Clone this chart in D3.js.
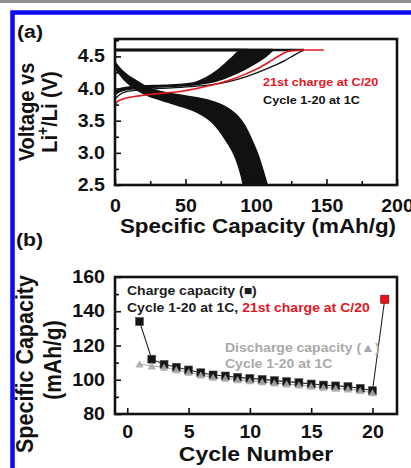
<!DOCTYPE html>
<html>
<head>
<meta charset="utf-8">
<script src="https://cdn.jsdelivr.net/npm/d3@7/dist/d3.min.js"></script>
<style>
  body { margin: 0; background: #fff; }
  svg { display: block; font-family: "Liberation Sans", Arial, sans-serif; font-weight: bold; }
</style>
</head>
<body>
<div id="chart"></div>
<script>
// ---- panel (a): voltage profiles as [capacity mAh/g, voltage V] ----
const discharge1 = [[0,4.41],[4,4.3],[8,4.22],[13,4.15],[20,4.05],[28,3.97],[37,3.93],[48,3.89],[60,3.85],[70,3.8],[78,3.73],[85,3.62],[90,3.5],[94,3.35],[98,3.15],[101,3.0],[104,2.8],[108,2.5]];
const discharge20 = [[0,4.32],[4,4.2],[8,4.1],[13,4.01],[20,3.92],[28,3.85],[37,3.79],[48,3.72],[56,3.66],[62,3.59],[68,3.5],[73,3.38],[78,3.22],[83,3.05],[86,2.9],[89,2.7],[91,2.5]];
const charge1 = [[0,3.84],[3,3.9],[8,3.95],[20,3.98],[40,4.01],[60,4.04],[75,4.08],[88,4.15],[100,4.24],[110,4.33],[120,4.43],[128,4.53],[134,4.6]];
const charge2 = [[0,3.9],[3,3.95],[10,3.99],[25,4.02],[45,4.04],[60,4.07],[72,4.12],[82,4.2],[92,4.3],[100,4.4],[107,4.5],[112,4.6]];
const charge20 = [[0,3.96],[4,4.0],[15,4.03],[35,4.05],[50,4.07],[58,4.1],[65,4.17],[72,4.27],[78,4.38],[84,4.5],[89,4.59],[94,4.6]];
const charge21 = [[0,3.76],[2,3.8],[6,3.84],[15,3.88],[30,3.92],[45,3.95],[58,4.0],[68,4.05],[80,4.12],[92,4.22],[102,4.32],[112,4.45],[118,4.53],[123,4.58],[135,4.6],[148,4.6]];
const cutoffV = 4.6;

// ---- panel (b): capacity vs cycle ----
const cycleNo = [1,2,3,4,5,6,7,8,9,10,11,12,13,14,15,16,17,18,19,20];
const chargeCap = [134,112,109,107.3,105.7,104.1,102.8,102.2,101.4,100.8,100.2,99.5,98.9,98.3,97.5,96.9,96.4,96,95,93.6];
const dischargeCap = [109.2,108,107.3,105.8,104.3,102.7,101.4,100.8,100,99.4,98.8,98.1,97.5,96.9,96.1,95.5,95,94.6,93.6,92.4];
const lastCycle = [21, 147];

const xTicksA = [0,50,100,150,200], xMinorA = [25,75,125,175];
const yTicksA = [2.5,3.0,3.5,4.0,4.5], yMinorA = [2.75,3.25,3.75,4.25,4.75];
const xTicksB = [0,5,10,15,20];
const yTicksB = [80,100,120,140,160], yMinorB = [90,110,130,150];

const W = 411, H = 468, SX = 1.12;
const red = "#e3161f", grey = "#a9a9a9", ink = "#111";

let svg = d3.select("#chart").append("svg")
  .attr("width", W).attr("height", H);

// frame of the figure
svg.append("rect").attr("x", 0).attr("y", 0).attr("width", W).attr("height", 3).attr("fill", "#8e8e8e");
svg.append("path")
  .attr("d", "M12.5," + H + "V12.5H" + W)
  .attr("fill", "none").attr("stroke", "#0b0bf2").attr("stroke-width", 4.5);

// text helpers (the figure is a bit stretched horizontally)
function txt(g, x, y, s, size, color, anchor) {
  return g.append("text")
    .attr("transform", "translate(" + x + "," + y + ") scale(" + SX + ",1)")
    .attr("text-anchor", anchor || "start")
    .style("font-size", size + "px")
    .attr("fill", color || ink)
    .text(s);
}
function vtxt(g, x, y, s, size) {
  return g.append("text")
    .attr("transform", "translate(" + x + "," + y + ") rotate(-90) scale(1," + SX + ")")
    .attr("text-anchor", "middle")
    .style("font-size", size + "px")
    .attr("fill", ink)
    .text(s);
}

function axes(x, y, xt, xm, yt, ym, xfmt, yfmt, xpad) {
  let bottom = y.range()[0], left = x.range()[0];
  let gx = svg.append("g").attr("transform", "translate(0," + bottom + ")")
    .call(d3.axisBottom(x).tickValues(xt).tickSize(-6).tickPadding(xpad).tickFormat(xfmt));
  if (xm) svg.append("g").attr("transform", "translate(0," + bottom + ")")
    .call(d3.axisBottom(x).tickValues(xm).tickSize(-4).tickFormat(""));
  let gy = svg.append("g").attr("transform", "translate(" + left + ",0)")
    .call(d3.axisLeft(y).tickValues(yt).tickSize(-6).tickPadding(9).tickFormat(yfmt));
  if (ym) svg.append("g").attr("transform", "translate(" + left + ",0)")
    .call(d3.axisLeft(y).tickValues(ym).tickSize(-4).tickFormat(""));
  svg.selectAll(".domain").remove();
  [gx, gy].forEach(g => {
    g.selectAll("text").style("font-size", "17.5px").style("font-family", "inherit")
      .attr("fill", ink).attr("transform", "scale(" + SX + ",1)");
  });
  svg.selectAll(".tick line").attr("stroke", ink).attr("stroke-width", 1.6);
  svg.append("rect")
    .attr("x", left).attr("y", y.range()[1])
    .attr("width", x.range()[1] - left).attr("height", bottom - y.range()[1])
    .attr("fill", "none").attr("stroke", ink).attr("stroke-width", 2.6);
}

// ================= panel (a) =================
let xA = d3.scaleLinear().domain([0, 200]).range([115, 397]);
let yA = d3.scaleLinear().domain([2.5, 4.77]).range([185, 39]);
let line = d3.line().x(d => xA(d[0])).y(d => yA(d[1])).curve(d3.curveMonotoneX);
let lineS = d3.line().x(d => xA(d[0])).y(d => yA(d[1])).curve(d3.curveBasis);
let lineV = d3.line().x(d => xA(d[0])).y(d => yA(d[1]));

// join two curves into one closed band
function band(gen, a, b) {
  return gen(a) + "L" + gen(b.slice().reverse()).slice(1) + "Z";
}

let ga = svg.append("g");
// connection back to zero capacity at the cut-off voltage
[charge1, charge2, charge20].forEach(c => {
  ga.append("path").attr("d", lineV([[c[c.length - 1][0], cutoffV], [0, cutoffV]]))
    .attr("stroke", ink).attr("stroke-width", 2.6).attr("fill", "none");
});
// dense band of cycles 2-20 charge and 1-20 discharge
ga.append("path").attr("d", band(line, charge20, charge2)).attr("fill", ink);
ga.append("path").attr("d", band(lineS, discharge1, discharge20)).attr("fill", ink)
  .attr("stroke", ink).attr("stroke-width", 1.5);
[charge2, charge20].forEach(c => {
  ga.append("path").attr("d", line(c)).attr("stroke", ink).attr("stroke-width", 1.8).attr("fill", "none");
});
ga.append("path").attr("d", line(charge1)).attr("stroke", ink).attr("stroke-width", 1.3).attr("fill", "none");
ga.append("path").attr("d", line(charge21)).attr("stroke", red).attr("stroke-width", 1.6).attr("fill", "none");

axes(xA, yA, xTicksA, xMinorA, yTicksA, yMinorA, d3.format("d"), d3.format(".1f"), 15);

txt(svg, 263, 86, "21st charge at C/20", 11.3, red);
txt(svg, 263, 104, "Cycle 1-20 at 1C", 11.3, ink);
txt(svg, 17, 38, "(a)", 19);
txt(svg, 258, 233, "Specific Capacity (mAh/g)", 20, ink, "middle");
vtxt(svg, 34, 112, "Voltage vs", 20);
let li = vtxt(svg, 57, 112, "", 20);
li.append("tspan").text("Li");
li.append("tspan").attr("dy", -8).style("font-size", "14px").text("+");
li.append("tspan").attr("dy", 8).text("/Li (V)");

// ================= panel (b) =================
let xB = d3.scaleLinear().domain([-1, 22]).range([115, 397]);
let yB = d3.scaleLinear().domain([80, 160]).range([414, 277]);

let chargePts = cycleNo.map((c, i) => [c, chargeCap[i]]);
let dischargePts = cycleNo.map((c, i) => [c, dischargeCap[i]]);
let lb = d3.line().x(d => xB(d[0])).y(d => yB(d[1]));

let gb = svg.append("g");
gb.append("path").attr("d", lb(chargePts.concat([lastCycle])))
  .attr("stroke", "#222").attr("stroke-width", 1.1).attr("fill", "none");
gb.append("path").attr("d", lb(dischargePts))
  .attr("stroke", grey).attr("stroke-width", 1).attr("fill", "none");

let sq = 8;
gb.selectAll("rect.chg").data(chargePts).enter().append("rect")
  .attr("class", "chg")
  .attr("x", d => xB(d[0]) - sq / 2).attr("y", d => yB(d[1]) - sq / 2)
  .attr("width", sq).attr("height", sq)
  .attr("fill", "#141414").attr("stroke", "#555").attr("stroke-width", 0.6);
gb.selectAll("path.dis").data(dischargePts).enter().append("path")
  .attr("class", "dis")
  .attr("d", d3.symbol().type(d3.symbolTriangle).size(30))
  .attr("transform", d => "translate(" + xB(d[0]) + "," + (yB(d[1]) + 1) + ")")
  .attr("fill", grey).attr("opacity", 0.9);
gb.append("rect")
  .attr("x", xB(lastCycle[0]) - sq / 2).attr("y", yB(lastCycle[1]) - sq / 2)
  .attr("width", sq).attr("height", sq)
  .attr("fill", red).attr("stroke", "#8a0d10").attr("stroke-width", 0.8);

axes(xB, yB, xTicksB, null, yTicksB, yMinorB, d3.format("d"), d3.format("d"), 12);

txt(svg, 127, 295, "Charge capacity (\u25A0)", 12.5, "#1c1c1c");
let cl = txt(svg, 127, 312, "Cycle 1-20 at 1C, ", 12.5, "#1c1c1c");
cl.append("tspan").attr("fill", red).text("21st charge at C/20");
txt(svg, 225, 352, "Discharge capacity (\u25B2)", 12.5, grey);
txt(svg, 225, 368, "Cycle 1-20 at 1C", 12.5, grey);
txt(svg, 16, 246, "(b)", 19);
txt(svg, 256, 461, "Cycle Number", 20.5, ink, "middle");
vtxt(svg, 33, 364, "Specific Capacity", 21.5);
vtxt(svg, 61, 360, "(mAh/g)", 21);
</script>
</body>
</html>
